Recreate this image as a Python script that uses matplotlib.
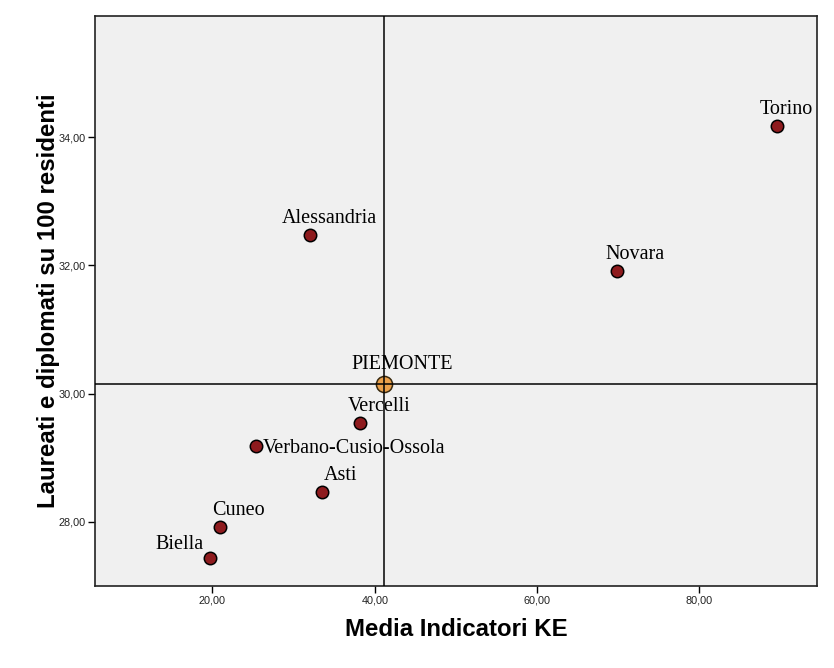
import matplotlib
matplotlib.use("Agg")
import matplotlib.pyplot as plt
from matplotlib.ticker import FuncFormatter

# data
province = ["Torino", "Alessandria", "Novara", "Vercelli", "Verbano-Cusio-Ossola",
            "Asti", "Cuneo", "Biella"]
media_ke = [89.6, 32.04, 69.78, 38.2, 25.39, 33.45, 20.96, 19.66]
laureati = [34.17, 32.47, 31.91, 29.55, 29.19, 28.46, 27.92, 27.44]

regione = "PIEMONTE"
regione_ke = 41.1
regione_laureati = 30.145

x_ticks = [20, 40, 60, 80]
y_ticks = [28, 30, 32, 34]

# label offsets in pixels (left edge, baseline) relative to each point
offsets = {
    "Torino": (-18, 12),
    "Alessandria": (-28, 12),
    "Novara": (-11, 12),
    "Vercelli": (-12, 12),
    "Verbano-Cusio-Ossola": (7, -7),
    "Asti": (2, 12),
    "Cuneo": (-8, 12),
    "Biella": (-54, 9),
}

fig = plt.figure(figsize=(8.34, 6.68), dpi=100)
ax = fig.add_axes([95 / 834, 1 - 586 / 668, 722 / 834, 570 / 668])
ax.set_facecolor("#F0F0F0")

ax.set_xlim(5.53, 94.48)
ax.set_ylim(27.0, 35.89)

ax.scatter(media_ke, laureati, s=80, c="#8E1B1E", edgecolors="black",
           linewidths=1.1, zorder=3)
ax.scatter([regione_ke], [regione_laureati], s=135, c="#EBA04A",
           edgecolors="#3a2a10", linewidths=1.1, zorder=3)

ax.axvline(regione_ke, color="black", lw=1.1, zorder=4)
ax.axhline(regione_laureati, color="black", lw=1.1, zorder=4)

serif = "Liberation Serif"
for name, xv, yv in zip(province, media_ke, laureati):
    dx, dy = offsets[name]
    ax.annotate(name, (xv, yv), xytext=(dx, dy), textcoords="offset pixels",
                ha="left", va="baseline", fontsize=14.5, family=serif, zorder=5)
ax.annotate(regione, (regione_ke, regione_laureati), xytext=(-32, 15),
            textcoords="offset pixels", ha="left", va="baseline",
            fontsize=14.5, family=serif, zorder=5)

fmt = FuncFormatter(lambda v, p: f"{v:.2f}".replace(".", ","))
ax.set_xticks(x_ticks)
ax.set_yticks(y_ticks)
ax.xaxis.set_major_formatter(fmt)
ax.yaxis.set_major_formatter(fmt)
ax.tick_params(direction="out", length=5, width=1, labelsize=7.8,
               colors="black", pad=2)
for lbl in ax.get_xticklabels() + ax.get_yticklabels():
    lbl.set_family("Liberation Sans")
    lbl.set_color("#222222")

for sp in ax.spines.values():
    sp.set_linewidth(1.2)
    sp.set_color("#222222")

ax.set_xlabel("Media Indicatori KE", fontsize=17.3, fontweight="bold",
              family="Liberation Sans", labelpad=9)
ax.set_ylabel("Laureati e diplomati su 100 residenti", fontsize=17.3,
              fontweight="bold", family="Liberation Sans", labelpad=-1)

fig.savefig("out.png", dpi=100, facecolor="white")
